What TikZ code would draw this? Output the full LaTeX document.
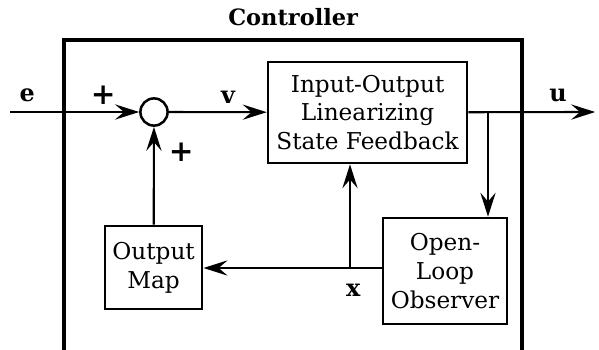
\documentclass[tikz,border=0pt]{standalone}
\usepackage{fontspec}
\setmainfont{DejaVu Serif}
\usetikzlibrary{arrows.meta}
\tikzset{
    EMPTY/.style={inner sep=0mm, font={\fontsize{17}{19}\selectfont\bfseries}},
    PLUS/.style={EMPTY, font={\fontsize{21}{23}\selectfont\bfseries}},
    SUM/.style={draw=black, shape=circle, minimum size=6.8mm, inner sep=0mm,
        line width=1.8pt},
    BLOCK/.style={draw=black, shape=rectangle, line width=1.8pt, align=center,
        inner sep=0mm, font={\fontsize{16.5}{20.5}\selectfont}},
    FRAME/.style={draw=black, line width=2.8pt},
    EDGE/.style={draw=black, line width=1.5pt},
    ARROW/.style={EDGE, -{Stealth[length=6mm, width=3.8mm, inset=2.2mm]}}
}
\pgfdeclarelayer{edgelayer}
\pgfdeclarelayer{nodelayer}
\pgfsetlayers{edgelayer,nodelayer,main}

\begin{document}
\begin{tikzpicture}
    \useasboundingbox (0,0) rectangle (14.975,-8.75);
    \begin{pgfonlayer}{nodelayer}
        \node [SUM] (sum) at (3.85, -2.8) {};
        \node [BLOCK, minimum width=4.98cm, minimum height=2.53cm] (iolsf) at (9.19, -2.81)
            {Input-Output\\Linearizing\\State Feedback};
        \node [BLOCK, minimum width=3.1cm, minimum height=2.65cm] (obs) at (11.125, -6.775)
            {Open-\\Loop\\Observer};
        \node [BLOCK, minimum width=2.43cm, minimum height=2.08cm] (map) at (3.84, -6.69)
            {Output\\Map};
        \coordinate (in) at (0.25, -2.8);
        \coordinate (out) at (14.88, -2.8);
        \coordinate (usplit) at (12.2, -2.8);
        \coordinate (xsplit) at (8.75, -6.7);
        \node [EMPTY, font={\fontsize{16}{18}\selectfont\bfseries}] (title) at (7.33, -0.43) {Controller};
        \node [EMPTY] (e) at (0.68, -2.38) {e};
        \node [PLUS] (plus1) at (2.58, -2.38) {+};
        \node [PLUS] (plus2) at (4.53, -3.8) {+};
        \node [EMPTY] (v) at (5.7, -2.43) {v};
        \node [EMPTY] (u) at (13.95, -2.38) {u};
        \node [EMPTY] (x) at (8.83, -7.25) {x};
    \end{pgfonlayer}
    \begin{pgfonlayer}{edgelayer}
        \draw[FRAME] (1.6, -8.75) |- (13.05, -1.0) -- (13.05, -8.75);
        \draw[ARROW] (in) to (sum);
        \draw[ARROW] (sum) to (iolsf);
        \draw[ARROW] (iolsf) to (out);
        \draw[ARROW] (usplit) to (usplit |- obs.north);
        \draw[ARROW] (obs.west |- xsplit) to (map.east |- xsplit);
        \draw[ARROW] (xsplit) to (xsplit |- iolsf.south);
        \draw[ARROW] (map) to (sum);
    \end{pgfonlayer}
\end{tikzpicture}
\end{document}
